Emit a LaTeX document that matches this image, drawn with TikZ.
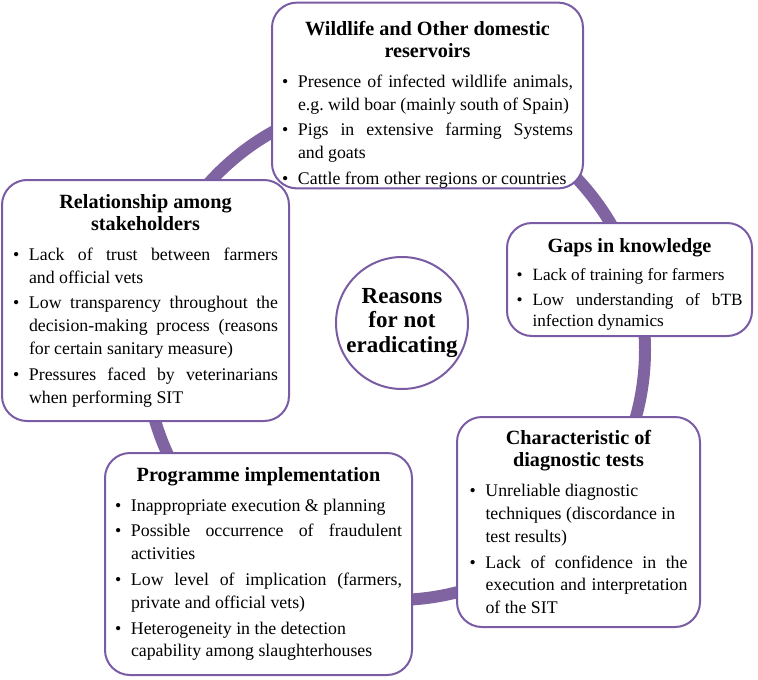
\documentclass[tikz,border=0pt]{standalone}
\usepackage{fontspec}
\setmainfont{Liberation Serif}
\usepackage{xcolor}

\definecolor{ringpurple}{HTML}{8064A2}
\definecolor{edgepurple}{HTML}{7A5CA5}
\setlength{\parindent}{0pt}
\frenchspacing

\newcommand{\boxhead}[1]{{\centering\fontsize{20.2}{22.5}\selectfont\bfseries #1\par}\vskip4pt}
\newcommand{\bul}[1]{\par\vskip3pt\noindent\hangindent=16pt\hangafter=0\llap{\makebox[16pt][l]{\textbullet}}#1\par}

\tikzset{
  causebox/.style={draw=edgepurple, line width=2pt, fill=white, rounded corners=25pt,
    align=justify, inner sep=0pt, font=\fontsize{17.8}{22.8}\selectfont,
    execute at begin node={\tolerance=9999\hyphenpenalty=10000\exhyphenpenalty=10000}},
  ring/.style={draw=ringpurple, line width=12pt},
  hub/.style={circle, draw=edgepurple, line width=2pt, fill=white, minimum size=132pt,
    inner sep=0pt, align=center, font=\fontsize{23}{24.5}\selectfont\bfseries}
}

\begin{document}
\begin{tikzpicture}[x=1pt, y=-1pt]
    \useasboundingbox (0,0) rectangle (758,680);

    % Cycle ring behind the boxes
    \coordinate (ringc) at (395,350);
    \draw[ring] (ringc) circle [radius=250pt];

    % Wildlife and other reservoirs
    \node[causebox, minimum width=311pt, minimum height=185pt, text width=291pt] (wild) at (427.5,95.5) {
      \vskip10pt
      \boxhead{Wildlife and Other domestic\par reservoirs}
      \bul{Presence of infected wildlife animals,\break e.g. wild boar (mainly south of Spain)}
      \bul{Pigs in extensive farming Systems\break and goats}
      \bul{Cattle from other regions or countries}};

    % Gaps in knowledge
    \node[causebox, minimum width=245pt, minimum height=113pt, text width=226pt,
      font=\fontsize{17.2}{21.5}\selectfont] (gaps) at (629.5,279.5) {
      \vskip1pt
      \boxhead{Gaps in knowledge}
      \bul{Lack of training for farmers}
      \bul{Low understanding of bTB\break infection dynamics}};

    % Diagnostic tests
    \node[causebox, minimum width=243pt, minimum height=210pt, text width=218pt] (diag) at (578.5,522) {
      \boxhead{Characteristic of\par diagnostic tests}
      \bul{Unreliable diagnostic\hfil\break techniques (discordance in\hfil\break test results)}
      \bul{Lack of confidence in the\break execution and interpretation\break of the SIT}};

    % Programme implementation
    \node[causebox, minimum width=307pt, minimum height=222pt, text width=287pt] (prog) at (258.5,564) {
      \boxhead{Programme implementation}
      \bul{Inappropriate execution \& planning}
      \bul{Possible occurrence of fraudulent\break activities}
      \bul{Low level of implication (farmers,\break private and official vets)}
      \bul{Heterogeneity in the detection\hfil\break capability among slaughterhouses}};

    % Relationship among stakeholders
    \node[causebox, minimum width=287pt, minimum height=241pt, text width=265pt] (rel) at (145.5,300.5) {
      \boxhead{Relationship among\par stakeholders}
      \bul{Lack of trust between farmers\break and official vets}
      \bul{Low transparency throughout the\break decision-making process (reasons\break for certain sanitary measure)}
      \bul{Pressures faced by veterinarians\break when performing SIT}};

    % Centre
    \node[hub] (reasons) at (402,323) {Reasons\\for not\\eradicating};
\end{tikzpicture}
\end{document}
